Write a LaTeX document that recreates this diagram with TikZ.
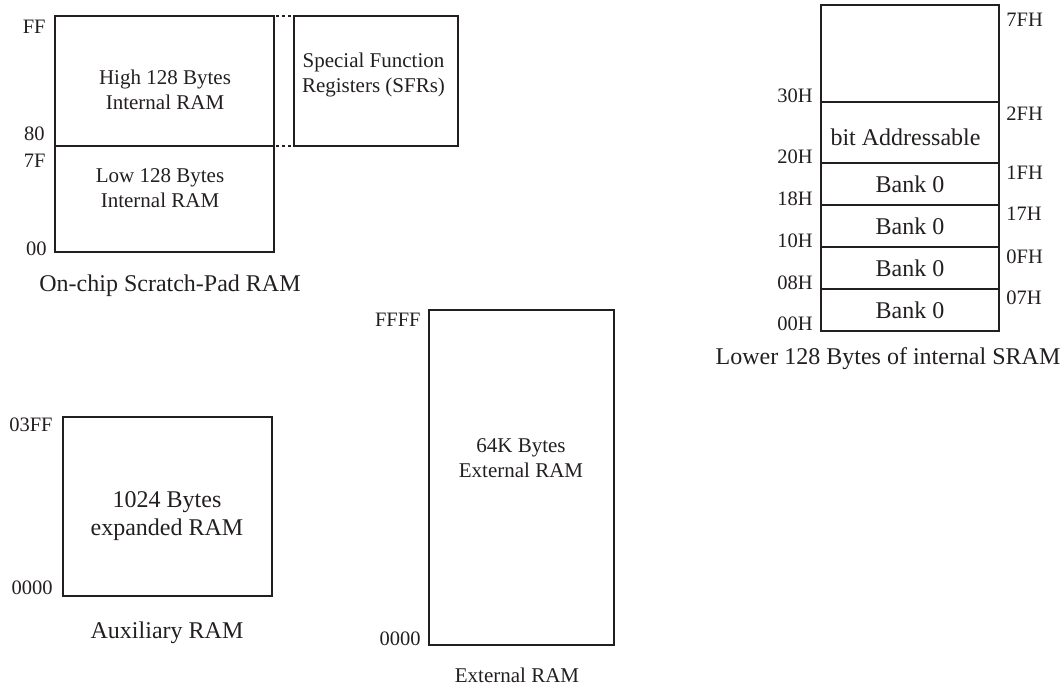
\documentclass[tikz,border=0pt]{standalone}
\usepackage{fontspec}
\setmainfont{Liberation Serif}
\usetikzlibrary{positioning}
\definecolor{ink}{HTML}{231F20}
\tikzset{
  membox/.style={rectangle, draw=ink, line width=1pt, outer sep=0pt,
                 inner sep=0pt, align=center, text=ink,
                 font=\fontsize{12}{14}\selectfont},
  boxtxt/.style={inner sep=0pt, align=center, text=ink,
                 font=\fontsize{10.5}{12.5}\selectfont},
  bigtxt/.style={boxtxt, font=\fontsize{12}{14}\selectfont},
  addr/.style={inner sep=0pt, text=ink, font=\fontsize{10.25}{12}\selectfont},
  caption/.style={inner sep=0pt, anchor=base, text=ink,
                  font=\fontsize{12}{14}\selectfont},
  link/.style={line width=1pt, dash pattern=on 1.6pt off 1.4pt, draw=ink},
}

\begin{document}
\begin{tikzpicture}[x=0.5pt, y=-0.5pt, node distance=0pt]
  \useasboundingbox (0,0) rectangle (1064,685);

  \node [membox, minimum width=109.5pt, minimum height=65pt] (high) at (164.5,81) {};
  \node [membox, minimum width=109.5pt, minimum height=53pt, below=of high] (low) {};
  \node [membox, minimum width=82pt, minimum height=65pt] (sfr) at (376,81) {};
  \node [boxtxt] (hightxt) at (165,89.5) {High 128 Bytes\\Internal RAM};
  \node [boxtxt] (lowtxt) at (160,188) {Low 128 Bytes\\Internal RAM};
  \node [boxtxt] (sfrtxt) at (373.5,74.5) {Special Function\\Registers (SFRs)};
  \draw [link] ([xshift=1pt]high.north east) -- (sfr.north west);
  \draw [link] ([xshift=1pt]high.south east) -- (sfr.south west);
  \node [addr, anchor=north east] (ff) at (46,20) {FF};
  \node [addr, anchor=base east] (a80) at (45,140) {80};
  \node [addr, anchor=north east] (a7f) at (46,154) {7F};
  \node [addr, anchor=base east] (a00) at (47,255) {00};
  \node [caption] (padcap) at (170,291) {On-chip Scratch-Pad RAM};

  \node [membox, minimum width=89pt, minimum height=48.5pt] (upper) at (910,53.5) {};
  \node [membox, minimum width=89pt, minimum height=30.5pt, below=of upper] (bitadr) {};
  \node [membox, minimum width=89pt, minimum height=21pt, below=of bitadr] (bank3) {Bank 0};
  \node [membox, minimum width=89pt, minimum height=21pt, below=of bank3] (bank2) {Bank 0};
  \node [membox, minimum width=89pt, minimum height=21pt, below=of bank2] (bank1) {Bank 0};
  \node [membox, minimum width=89pt, minimum height=21pt, below=of bank1] (bank0) {Bank 0};
  \node [bigtxt] (bittxt) at (905.5,137) {bit Addressable};
  \node [addr, anchor=base east] (h30) at (813,102) {30H};
  \node [addr, anchor=base east] (h20) at (813,163) {20H};
  \node [addr, anchor=base east] (h18) at (813,205) {18H};
  \node [addr, anchor=base east] (h10) at (813,247) {10H};
  \node [addr, anchor=base east] (h08) at (813,289) {08H};
  \node [addr, anchor=base east] (h00) at (813,330) {00H};
  \node [addr, anchor=north west] (h7f) at (1006,13) {7FH};
  \node [addr, anchor=north west] (h2f) at (1006,107) {2FH};
  \node [addr, anchor=north west] (h1f) at (1006,166) {1FH};
  \node [addr, anchor=north west] (h17) at (1006,207) {17H};
  \node [addr, anchor=north west] (h0f) at (1006,249) {0FH};
  \node [addr, anchor=north west] (h07) at (1006,290) {07H};
  \node [caption] (sramcap) at (888,364) {Lower 128 Bytes of internal SRAM};

  \node [membox, minimum width=104.5pt, minimum height=89.5pt] (aux) at (167.5,506.5) {};
  \node [bigtxt] (auxtxt) at (167,516) {1024 Bytes\\expanded RAM};
  \node [addr, anchor=north east] (auxtop) at (53,417) {03FF};
  \node [addr, anchor=base east] (auxbot) at (53,594) {0000};
  \node [caption] (auxcap) at (167,638) {Auxiliary RAM};

  \node [membox, minimum width=92.5pt, minimum height=167.5pt] (ext) at (521.5,477.5) {};
  \node [boxtxt] (exttxt) at (521,458.5) {64K Bytes\\External RAM};
  \node [addr, anchor=north east] (exttop) at (421,313) {FFFF};
  \node [addr, anchor=base east] (extbot) at (421,645) {0000};
  \node [caption, font=\fontsize{10.5}{12.5}\selectfont] (extcap) at (517,682) {External RAM};
\end{tikzpicture}
\end{document}
